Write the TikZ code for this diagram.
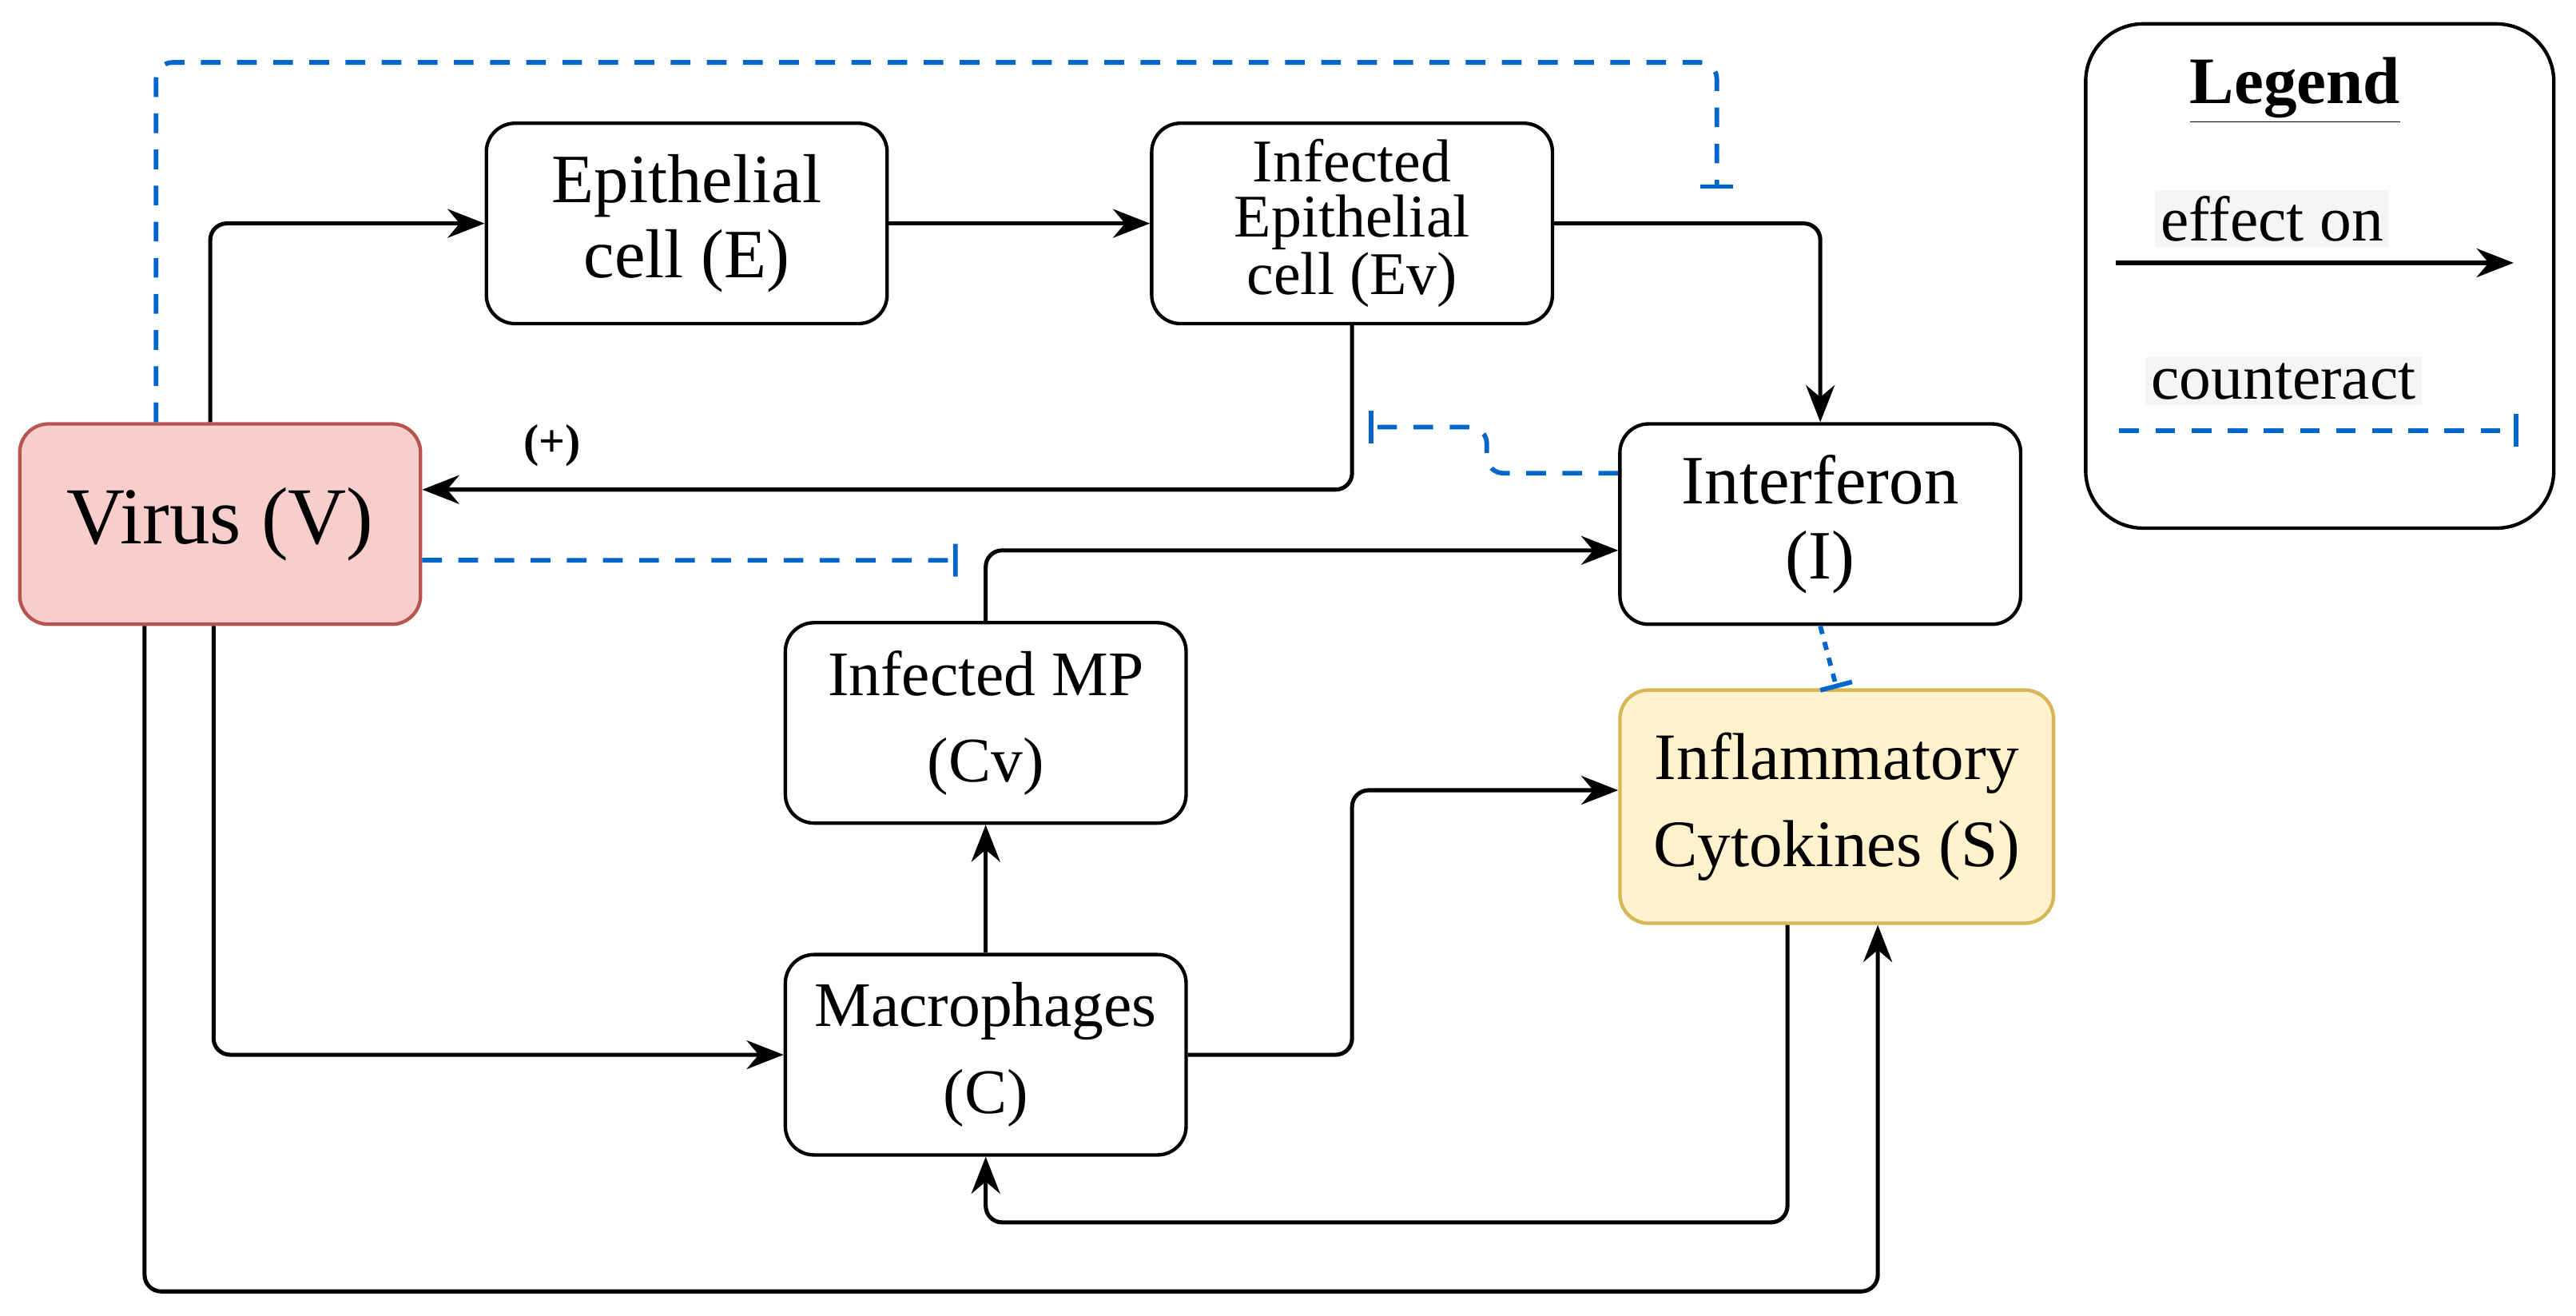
\documentclass[tikz,border=0pt]{standalone}
\usepackage{fontspec}
\setmainfont{Liberation Serif}
\usetikzlibrary{arrows.meta,calc}
\definecolor{pinkf}{HTML}{F8CECC}\definecolor{pinkd}{HTML}{B85450}
\definecolor{yelf}{HTML}{FFF2CC}\definecolor{yeld}{HTML}{D6B656}
\definecolor{cblue}{HTML}{0066CC}
\begin{document}
\begin{tikzpicture}[x=0.02cm,y=-0.02cm,
 box/.style={draw,line width=1.2pt,rounded corners=0.35cm,minimum width=4.88cm,minimum height=2.44cm,align=center,font=\fontsize{24}{26}\selectfont,inner sep=1pt},
 eff/.style={line width=1.4pt,-{Stealth[length=0.45cm,width=0.35cm]},rounded corners=0.2cm},
 cnt/.style={cblue,line width=1.6pt,dash pattern=on 0.24cm off 0.2cm,-{Bar[width=0.4cm,line width=1.6pt]},rounded corners=0.2cm}]
\useasboundingbox (0,0) rectangle (1568,801);
\node[box,fill=pinkf,draw=pinkd,font=\fontsize{28}{30}\selectfont] (V) at (134,319) {Virus (V)};
\node[box] (E) at (418,136) {Epithelial\\cell (E)};
\node[box,font=\fontsize{21}{19}\selectfont] (Ev) at (823,136) {Infected\\Epithelial\\cell (Ev)};
\node[box] (I) at (1108,319) {Interferon\\(I)};
\node[box,font=\fontsize{22}{30}\selectfont] (Cv) at (600,440) {Infected MP\\(Cv)};
\node[box,fill=yelf,draw=yeld,minimum width=5.28cm,minimum height=2.84cm,font=\fontsize{23}{30}\selectfont] (S) at (1118,491) {Inflammatory\\Cytokines (S)};
\node[box,font=\fontsize{22}{30}\selectfont] (C) at (600,642) {Macrophages\\(C)};
\node[draw,line width=1.2pt,rounded corners=0.7cm,minimum width=5.7cm,minimum height=6.14cm] (L) at (1412,168) {};
\node[font=\bfseries\fontsize{23}{26}\selectfont] (lt) at (1397,55) {\underline{Legend}};
\node[fill=black!4,font=\fontsize{22}{24}\selectfont,inner sep=2pt] (le) at (1383,133) {effect on};
\node[fill=black!4,font=\fontsize{22}{24}\selectfont,inner sep=2pt] (lc) at (1390,232) {counteract};
\coordinate (la1) at (1288,160); \coordinate (la2) at (1530,160);
\coordinate (lc1) at (1290,262); \coordinate (lc2) at (1533,262);
\draw[eff] (la1) -- (la2);
\draw[cnt] (lc1) -- (lc2);
% effects
\draw[eff] ([xshift=-0.12cm]V.north) |- (E.west);
\draw[eff] (E.east) -- (Ev.west);
\draw[eff] (Ev.east) -| (I.north);
\draw[eff] (Ev.south) |- ([yshift=0.42cm]V.east) node[pos=0.93,above=4pt,font=\bfseries\fontsize{16}{18}\selectfont] (plus) {(+)};
\draw[eff] (Cv.north) |- ([yshift=-0.32cm]I.west);
\draw[eff] (C.north) -- (Cv.south);
\draw[eff] ([xshift=-0.08cm]V.south) |- (C.west);
\draw[eff] (C.east) -- (823,642) |- ([yshift=0.2cm]S.west);
\draw[eff] ([xshift=-0.6cm]S.south) -- ++(0,181) -| (C.south);
\draw[eff] ([xshift=-0.92cm]V.south) -- ++(0,405) -| ([xshift=0.5cm]S.south);
% counteract
\coordinate (t1) at (1045,115);
\draw[cnt] ([xshift=-0.78cm]V.north) -- (95,38) -- (1045,38) -- (t1);
\coordinate (t2) at (583,341);
\draw[cnt] ([yshift=-0.44cm]V.east) -- (t2);
\coordinate (t3) at (833,260);
\draw[cnt] ([yshift=0.62cm]I.west) -- (905,288) -- (905,260) -- (t3);
\draw[cnt,dash pattern=on 0.1cm off 0.1cm] (I.south) -- (S.north);
\end{tikzpicture}
\end{document}
